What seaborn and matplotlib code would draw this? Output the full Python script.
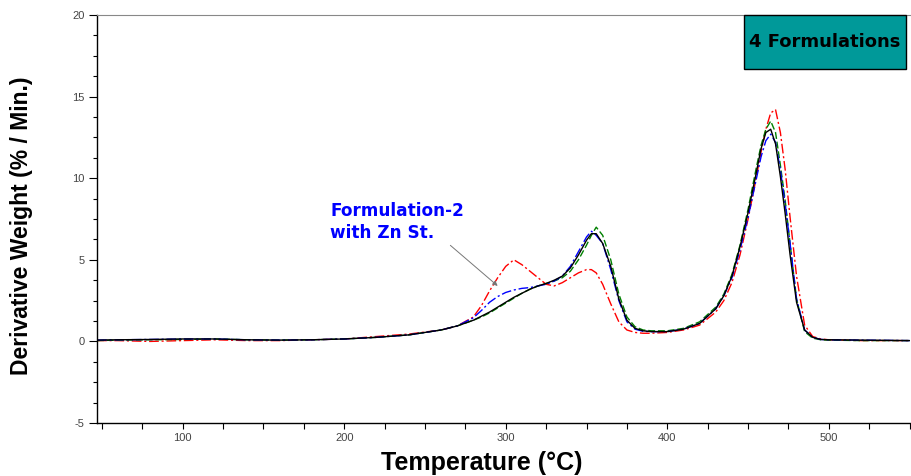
import seaborn as sns
import matplotlib.pyplot as plt
import matplotlib.ticker as mticker
from matplotlib.patches import Rectangle
import pandas as pd

# temperature grid (deg C)
temp = [47, 60, 80, 100, 120, 140, 160, 180, 200, 220, 240, 260, 270, 280, 285,
        290, 295, 300, 305, 310, 315, 320, 325, 330, 335, 340, 345, 350, 353, 356,
        360, 365, 370, 375, 380, 385, 390, 400, 410, 420, 430, 435, 440, 445, 450,
        455, 458, 461, 464, 467, 470, 473, 476, 480, 485, 490, 495, 500, 520, 550]

# derivative weight (% / min) for the four formulations
form1_black = [0.08, 0.10, 0.12, 0.15, 0.15, 0.10, 0.08, 0.10, 0.15, 0.25, 0.40, 0.70, 0.95, 1.30, 1.55,
               1.80, 2.10, 2.40, 2.70, 2.95, 3.20, 3.40, 3.55, 3.75, 4.00, 4.50, 5.30, 6.20, 6.60, 6.60,
               6.00, 4.60, 2.60, 1.30, 0.80, 0.65, 0.60, 0.60, 0.75, 1.10, 2.00, 2.80, 4.00, 5.80, 7.90,
               10.3, 11.8, 12.8, 13.0, 12.1, 10.1, 7.80, 5.30, 2.40, 0.70, 0.25, 0.12, 0.10, 0.08, 0.05]
form2_blue = [0.08, 0.10, 0.12, 0.15, 0.15, 0.10, 0.08, 0.10, 0.15, 0.25, 0.40, 0.70, 0.95, 1.45, 1.90,
              2.40, 2.75, 3.00, 3.15, 3.25, 3.30, 3.40, 3.50, 3.70, 4.00, 4.60, 5.50, 6.40, 6.75, 6.50,
              6.00, 4.40, 2.50, 1.20, 0.75, 0.62, 0.60, 0.60, 0.75, 1.10, 2.00, 2.80, 3.90, 5.60, 7.60,
              9.90, 11.3, 12.3, 12.7, 12.2, 10.5, 8.40, 6.00, 2.60, 0.70, 0.25, 0.12, 0.10, 0.08, 0.05]
form3_green = [0.05, 0.08, 0.10, 0.12, 0.15, 0.10, 0.08, 0.10, 0.15, 0.25, 0.40, 0.70, 0.95, 1.30, 1.50,
               1.75, 2.05, 2.35, 2.65, 2.95, 3.20, 3.40, 3.55, 3.70, 3.90, 4.30, 5.00, 5.90, 6.50, 7.00,
               6.50, 5.00, 2.90, 1.50, 0.90, 0.70, 0.65, 0.65, 0.80, 1.20, 2.10, 2.90, 4.10, 5.90, 8.10,
               10.6, 12.0, 13.0, 13.5, 12.8, 10.8, 8.60, 6.00, 2.60, 0.60, 0.20, 0.10, 0.08, 0.05, 0.05]
form4_red = [0.05, 0.05, 0.00, 0.05, 0.10, 0.05, 0.05, 0.10, 0.15, 0.30, 0.45, 0.70, 0.95, 1.50, 2.20,
             3.10, 3.90, 4.60, 5.00, 4.70, 4.30, 3.90, 3.50, 3.40, 3.60, 3.90, 4.20, 4.40, 4.40, 4.20,
             3.50, 2.30, 1.20, 0.70, 0.55, 0.50, 0.50, 0.55, 0.70, 1.00, 1.80, 2.50, 3.60, 5.30, 7.50,
             10.0, 11.6, 13.0, 14.0, 14.2, 12.8, 10.5, 7.60, 4.00, 1.00, 0.30, 0.15, 0.10, 0.05, 0.05]

series = {"Formulation-4": form4_red, "Formulation-3": form3_green,
          "Formulation-2": form2_blue, "Formulation-1": form1_black}
colors = {"Formulation-4": "#ff0000", "Formulation-3": "#008000",
          "Formulation-2": "#0000ff", "Formulation-1": "#000000"}
dashes = {"Formulation-4": (7, 2, 1.5, 2), "Formulation-3": (5, 2),
          "Formulation-2": (7, 2, 1.5, 2), "Formulation-1": ""}

df = pd.concat([pd.DataFrame({"Temperature": temp, "Deriv": v, "Sample": k})
                for k, v in series.items()])

sns.set_style("white")
plt.rcParams['font.family'] = ['Liberation Sans', 'DejaVu Sans']
plt.rcParams['axes.unicode_minus'] = False

fig = plt.figure(figsize=(9.11, 4.76), dpi=100)
ax = fig.add_axes([0.1065, 0.1113, 0.892, 0.8572])

sns.lineplot(data=df, x="Temperature", y="Deriv", hue="Sample", style="Sample",
             palette=colors, dashes=dashes, hue_order=list(series), style_order=list(series),
             linewidth=1.0, legend=False, sort=False, ax=ax)

ax.set_xlim(47, 550)
ax.set_ylim(-5, 20)
ax.xaxis.set_major_locator(mticker.MultipleLocator(100))
ax.xaxis.set_minor_locator(mticker.MultipleLocator(25))
ax.yaxis.set_major_locator(mticker.MultipleLocator(5))
ax.yaxis.set_minor_locator(mticker.MultipleLocator(1.25))
ax.tick_params(which='both', direction='out', colors='black', labelcolor='#444444',
               labelsize=8, width=0.8)
ax.tick_params(which='major', length=6, pad=3)
ax.tick_params(which='minor', length=3)
ax.tick_params(axis='x', which='both', length=4, bottom=True)
ax.tick_params(axis='y', which='both', left=True)

for s in ['left', 'bottom']:
    ax.spines[s].set_color('black')
    ax.spines[s].set_linewidth(1.0)
ax.spines['top'].set_color('#888888')
ax.spines['right'].set_visible(False)

ax.set_ylabel("Derivative Weight (% / Min.)", fontsize=16.5, fontweight='bold', color='black')
ax.yaxis.set_label_coords(-0.079, 0.483)
ax.set_xlabel("Temperature (°C)", fontsize=18, fontweight='bold', color='black')
ax.xaxis.set_label_coords(0.473, -0.068)

ax.annotate("Formulation-2\nwith Zn St.", xy=(295, 3.4), xytext=(191.5, 8.55),
            color='#0000ff', fontsize=12.2, fontweight='bold', family='DejaVu Sans',
            va='top', ha='left', linespacing=1.3,
            arrowprops=dict(arrowstyle='-|>', color='#777777', lw=0.7,
                            shrinkA=0, shrinkB=0, mutation_scale=7,
                            relpos=(0.86, 0.02)))

# teal title box in the top-right corner
ax.add_patch(Rectangle((0.796, 0.868), 0.2, 0.132, transform=ax.transAxes,
                       facecolor='#009999', edgecolor='black', lw=1, clip_on=False, zorder=5))
ax.text(0.896, 0.934, "4 Formulations", transform=ax.transAxes, ha='center', va='center',
        fontsize=13, fontweight='bold', family='DejaVu Sans', color='black', zorder=6)

fig.savefig("out.png", dpi=100)
